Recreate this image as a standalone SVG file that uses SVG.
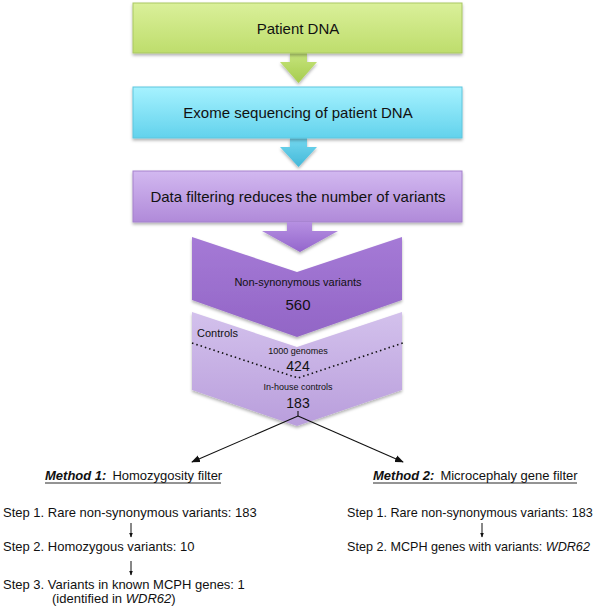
<svg xmlns="http://www.w3.org/2000/svg" width="600" height="609" viewBox="0 0 600 609">
<style>
text{font-family:"Liberation Sans",Arial,sans-serif;fill:#111}
.box{font-size:15px;text-anchor:middle}
.step{font-size:13px}
.stepr{font-size:12.6px}
.conn{stroke:#111;stroke-width:1.1;fill:none}
.down{stroke:#111;stroke-width:1;fill:none}
</style>
<defs>
<linearGradient id="gGreen" x1="0" y1="0" x2="0" y2="1"><stop offset="0" stop-color="#daf09a"/><stop offset="1" stop-color="#bedd6c"/></linearGradient>
<linearGradient id="gCyan" x1="0" y1="0" x2="0" y2="1"><stop offset="0" stop-color="#a6f2ff"/><stop offset="1" stop-color="#62d2ec"/></linearGradient>
<linearGradient id="gPurple" x1="0" y1="0" x2="0" y2="1"><stop offset="0" stop-color="#d2b8f0"/><stop offset="1" stop-color="#b08ad9"/></linearGradient>
<linearGradient id="gDark" x1="0" y1="0" x2="0" y2="1"><stop offset="0" stop-color="#a57ad6"/><stop offset="1" stop-color="#9265c6"/></linearGradient>
<linearGradient id="gLight" x1="0" y1="0" x2="0" y2="1"><stop offset="0" stop-color="#d3c1ec"/><stop offset="1" stop-color="#b99edc"/></linearGradient>
<linearGradient id="aGreen" x1="0" y1="0" x2="0" y2="1"><stop offset="0" stop-color="#c6e47c"/><stop offset="1" stop-color="#a6cc4e"/></linearGradient>
<linearGradient id="aCyan" x1="0" y1="0" x2="0" y2="1"><stop offset="0" stop-color="#74d8f0"/><stop offset="1" stop-color="#44b8d8"/></linearGradient>
<linearGradient id="aPurple" x1="0" y1="0" x2="0" y2="1"><stop offset="0" stop-color="#b690e2"/><stop offset="1" stop-color="#9466cc"/></linearGradient>
<filter id="sh" x="-5%" y="-10%" width="110%" height="130%"><feDropShadow dx="0" dy="2" stdDeviation="1.5" flood-color="#000" flood-opacity="0.3"/></filter>
<marker id="ah" viewBox="0 0 10 10" refX="9" refY="5" markerWidth="8" markerHeight="8" orient="auto"><path d="M0,1 L10,5 L0,9 Z" fill="#111"/></marker>
<marker id="ahs" viewBox="0 0 10 10" refX="9" refY="5" markerWidth="5" markerHeight="5" orient="auto"><path d="M0,1 L10,5 L0,9 Z" fill="#111"/></marker>
</defs>

<g id="arrow-green" filter="url(#sh)"><path d="M290,53 L307,53 L307,62 L317,62 L298.5,83 L280,62 L290,62 Z" fill="url(#aGreen)"/></g>
<g id="arrow-cyan" filter="url(#sh)"><path d="M290,138 L307,138 L307,147 L317,147 L298.5,167 L280,147 L290,147 Z" fill="url(#aCyan)"/></g>

<g id="patient-dna">
<rect x="133" y="3" width="329" height="50" fill="url(#gGreen)" stroke="#a9c763" stroke-width="1" filter="url(#sh)"/>
<text class="box" x="298" y="34">Patient DNA</text>
</g>
<g id="exome-seq">
<rect x="133" y="87" width="329" height="51" fill="url(#gCyan)" stroke="#5fc6de" stroke-width="1" filter="url(#sh)"/>
<text class="box" x="298" y="118">Exome sequencing of patient DNA</text>
</g>
<g id="data-filtering">
<rect x="133" y="171" width="329" height="51" fill="url(#gPurple)" stroke="#a582cc" stroke-width="1" filter="url(#sh)"/>
<text class="box" x="298" y="202">Data filtering reduces the number of variants</text>
</g>

<g id="controls">
<path d="M192,312 L297,347 L402,312 L402,390 L297,426 L192,390 Z" fill="url(#gLight)" filter="url(#sh)"/>
<path d="M192,343 L298,378 L403,343" fill="none" stroke="#111" stroke-width="1.6" stroke-dasharray="1.5,3"/>
<text x="197" y="337" font-size="11">Controls</text>
<text x="298" y="354" font-size="9" text-anchor="middle">1000 genomes</text>
<text x="298" y="371" font-size="14" text-anchor="middle">424</text>
<text x="298" y="390" font-size="9" text-anchor="middle">In-house controls</text>
<text x="298" y="408" font-size="14" text-anchor="middle">183</text>
</g>
<g id="nonsyn">
<path d="M192,237 L297,272 L402,237 L402,300 L297,337 L192,300 Z" fill="url(#gDark)" filter="url(#sh)"/>
<text x="298" y="286" font-size="11" text-anchor="middle">Non-synonymous variants</text>
<text x="298" y="310" font-size="15" text-anchor="middle">560</text>
</g>
<g id="arrow-purple" filter="url(#sh)"><path d="M287,222 L312,222 L312,231 L338,231 L300,252 L262,231 L287,231 Z" fill="url(#aPurple)"/></g>

<g id="connectors">
<line class="conn" x1="298" y1="411" x2="298" y2="416"/>
<line class="conn" x1="298" y1="416" x2="192" y2="462" marker-end="url(#ah)"/>
<line class="conn" x1="298" y1="416" x2="403" y2="462" marker-end="url(#ah)"/>
<line class="down" x1="131" y1="523" x2="131" y2="537" marker-end="url(#ahs)"/>
<line class="down" x1="131" y1="561" x2="131" y2="575" marker-end="url(#ahs)"/>
<line class="down" x1="482" y1="523" x2="482" y2="537" marker-end="url(#ahs)"/>
</g>

<g id="method1">
<text x="45" y="480" font-size="13"><tspan font-weight="bold" font-style="italic">Method 1:</tspan><tspan dx="6">Homozygosity filter</tspan></text>
<line x1="45" y1="483" x2="221" y2="483" stroke="#111" stroke-width="0.9"/>
<text class="step" x="3" y="517" font-size="12.8">Step 1. Rare non-synonymous variants: 183</text>
<text class="step" x="3" y="551">Step 2. Homozygous variants: 10</text>
<text class="step" x="3" y="589">Step 3. Variants in known MCPH genes: 1</text>
<text class="step" x="52" y="603">(identified in <tspan font-style="italic">WDR62</tspan>)</text>
</g>

<g id="method2">
<text x="373" y="480" font-size="13"><tspan font-weight="bold" font-style="italic">Method 2:</tspan><tspan dx="6">Microcephaly gene filter</tspan></text>
<line x1="373" y1="483" x2="577" y2="483" stroke="#111" stroke-width="0.9"/>
<text class="stepr" x="347" y="517">Step 1. Rare non-synonymous variants: 183</text>
<text class="stepr" x="347" y="551">Step 2. MCPH genes with variants: <tspan font-style="italic">WDR62</tspan></text>
</g>
</svg>
